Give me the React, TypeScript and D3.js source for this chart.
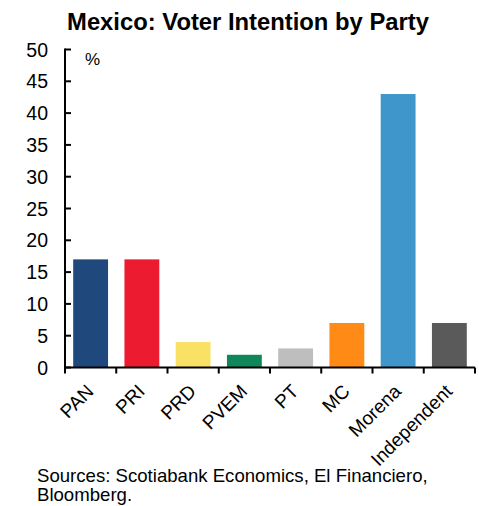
import React from "react";
import * as d3 from "d3";

const parties = ["PAN", "PRI", "PRD", "PVEM", "PT", "MC", "Morena", "Independent"];
const values = [17, 17, 4, 2, 3, 7, 43, 7];
const colors = ["#1f497d", "#ed1b2f", "#f9e166", "#10875b", "#bebebe", "#ff8a15", "#3e96ca", "#5a5a5a"];
const yTicks = [0, 5, 10, 15, 20, 25, 30, 35, 40, 45, 50];

const W = 479, H = 506;
const left = 65, right = 475, top = 49.5, bottom = 367.5;
const font = "Arial, 'Liberation Sans', sans-serif";

export default function App() {
  const x = d3.scaleBand<string>().domain(parties).range([left, right]).paddingInner(0.32).paddingOuter(0.16);
  const xb = d3.scaleBand<string>().domain(parties).range([left, right]);
  const y = d3.scaleLinear().domain([0, 50]).range([bottom, top]);
  return (
    <svg width={W} height={H} style={{ position: "absolute", left: 0, top: 0 }} fontFamily={font}>
      <text x={248} y={30} textAnchor="middle" fontSize={23.8} fontWeight="bold" fill="#000">
        Mexico: Voter Intention by Party
      </text>
      <text x={85} y={65} fontSize={17} fill="#000">%</text>
      {parties.map((p, i) => (
        <rect key={p} x={x(p)} y={y(values[i])} width={x.bandwidth()} height={y(0) - y(values[i])} fill={colors[i]} />
      ))}
      {/* y axis */}
      <line x1={left} x2={left} y1={top - 1} y2={bottom + 6} stroke="#000" strokeWidth={2} />
      {yTicks.map((t) => (
        <g key={t}>
          <line x1={left} x2={left + 6} y1={y(t)} y2={y(t)} stroke="#000" strokeWidth={2} />
          <text x={48} y={y(t)} dy="0.36em" textAnchor="end" fontSize={19.5} fill="#000">{t}</text>
        </g>
      ))}
      {/* x axis */}
      <line x1={left} x2={right} y1={bottom} y2={bottom} stroke="#000" strokeWidth={2} />
      {parties.map((p) => (
        <line key={"t" + p} x1={xb(p)! + xb.bandwidth()} x2={xb(p)! + xb.bandwidth()} y1={bottom} y2={bottom + 6} stroke="#000" strokeWidth={2} />
      ))}
      {parties.map((p) => {
        const cx = xb(p)! + xb.bandwidth() / 2 + 4;
        const cy = bottom + 25;
        return (
          <text key={"l" + p} x={cx} y={cy} transform={`rotate(-45 ${cx} ${cy})`} textAnchor="end" fontSize={19} fill="#000">
            {p}
          </text>
        );
      })}
      <text x={37} y={482} fontSize={18.6} fill="#000">Sources: Scotiabank Economics, El Financiero,</text>
      <text x={37} y={501} fontSize={18.6} fill="#000">Bloomberg.</text>
    </svg>
  );
}
